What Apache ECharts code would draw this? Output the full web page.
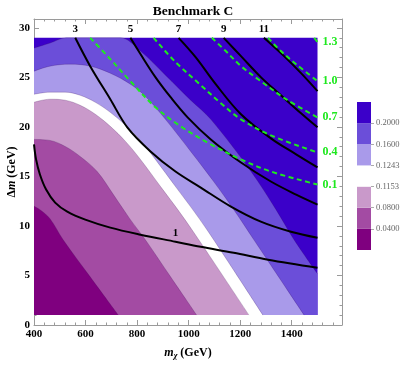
<!DOCTYPE html>
<html><head><meta charset="utf-8">
<script src="https://cdn.jsdelivr.net/npm/echarts@6/dist/echarts.min.js"></script>
<style>html,body{margin:0;padding:0;background:#fff}#c{width:407px;height:365px}</style>
</head><body><div id="c"></div>
<script>
// ---- legend levels and colours of the filled bands (low -> high) ----
const levelLabels = ['0.0400','0.0800','0.1153','0.1243','0.1600','0.2000'];
const bandColors  = ['#7f007f','#a34ba3','#c999ca','#ffffff','#a99aea','#6b4ed9','#3b00c9'];

// ---- filled-contour boundaries [m_chi (GeV), Δm (GeV)] ----
const regionTop = [[400,29],[1500,29]];
const c0200 = [[400,27.96],[462,28.47],[525,29],[735,29],[813,27.66],[910,25.23],[1008,22.7],[1086,20.77],[1242,15.5],[1339,11.65],[1409,8.61],[1500,5.17]];
const c0160 = [[400,25.63],[462,26.14],[540,26.34],[618,26.14],[696,25.43],[774,24.32],[832,23.10],[910,20.77],[1008,17.53],[1097,14.49],[1175,11.65],[1253,8.61],[1448,1.0]];
const c01243 = [[400,23.30],[462,23.51],[521,23.51],[579,23.20],[638,22.49],[696,21.48],[755,20.16],[813,18.64],[871,16.72],[949,13.98],[1027,11.25],[1097,8.61],[1288,1.0]];
const c01153 = [[400,22.49],[462,22.80],[521,22.70],[579,22.19],[638,21.28],[696,20.06],[755,18.54],[813,16.72],[891,13.98],[969,11.25],[1047,8.31],[1234,1.0]];
const c0080 = [[400,18.74],[462,18.64],[521,18.03],[579,17.02],[645,15.50],[708,13.17],[774,10.64],[832,8.61],[930,4.86],[1031,1.0]];
const c0040 = [[400,12.0],[423,11.65],[462,10.74],[513,8.61],[618,4.86],[727,1.0]];

// ---- black contour lines ----
const b1  = [[400,18.24],[408,16.72],[423,15.20],[447,13.68],[482,12.36],[529,11.45],[599,10.64],[696,9.83],[813,9.12],[949,8.41],[1047,7.90],[1175,7.29],[1308,6.59],[1500,5.78]];
const b3  = [[560,29],[618,26.14],[696,22.8],[762,19.96],[852,17.53],[949,15.50],[1047,13.88],[1164,11.96],[1280,10.44],[1397,9.42],[1500,8.81]];
const b5  = [[774,29],[813,27.36],[871,25.03],[930,23.0],[996,20.97],[1086,18.74],[1203,16.41],[1319,14.49],[1417,13.17],[1500,12.16]];
const b7  = [[961,29],[1027,27.05],[1105,24.32],[1203,21.28],[1319,18.85],[1417,17.23],[1500,15.91]];
const b9  = [[1136,29],[1203,27.15],[1280,25.03],[1358,23.2],[1436,21.38],[1500,19.96]];
const b11 = [[1292,29],[1370,27.15],[1436,25.43],[1500,23.61]];
const blackLines  = [b1, b3, b5, b7, b9, b11];
const blackLabels = ['1','3','5','7','9','11'];
const blackLabelIndex = [9, 0, 0, 0, 0, 0];

// ---- green dashed contour lines ----
const g01 = [[618,29],[696,26.85],[774,24.62],[871,21.99],[969,20.06],[1086,18.24],[1203,16.72],[1319,15.50],[1500,14.18]];
const g04 = [[864,29],[949,26.55],[1047,24.22],[1125,22.39],[1203,20.77],[1319,19.15],[1500,17.43]];
const g07 = [[1090,29],[1144,27.66],[1203,26.14],[1280,24.62],[1378,22.8],[1500,20.97]];
const g10 = [[1308,29],[1358,27.66],[1417,26.34],[1500,24.62]];
const g13 = [[1487,29],[1500,28.57]];
const greenLines  = [g01, g04, g07, g10, g13];
const greenLabels = ['0.1','0.4','0.7','1.0','1.3'];

const FONT = 'Liberation Serif';
const GREEN = '#1fe81f';
const FRAME = '#9a9a9a';

const chart = echarts.init(document.getElementById('c'), null, {renderer:'canvas'});

function fill(data, color, edge) {
  return {type:'line', xAxisIndex:0, yAxisIndex:0, data, smooth:0.35, symbol:'none', silent:true,
    lineStyle:{width: edge ? 0.6 : 0, color:'rgba(50,0,70,0.35)'},
    areaStyle:{color, opacity:1, origin:1}, z:1};
}
const series = [
  fill(regionTop, bandColors[6], false),
  fill(c0200,  bandColors[5], true),
  fill(c0160,  bandColors[4], true),
  fill(c01243, bandColors[3], true),
  fill(c01153, bandColors[2], true),
  fill(c0080,  bandColors[1], true),
  fill(c0040,  bandColors[0], true)
];
blackLines.forEach((ln, k) => {
  series.push({type:'line', xAxisIndex:0, yAxisIndex:0, smooth:0.35, silent:true,
    showSymbol:true, symbol:'circle', symbolSize:0, z:3,
    lineStyle:{color:'#000', width:2},
    data: ln.map((p, i) => i === blackLabelIndex[k]
      ? {value:p, label:{show:true, formatter:blackLabels[k], position:'top', distance:3,
         color:'#000', fontFamily:FONT, fontWeight:'bold', fontSize:11}}
      : p)
  });
});
greenLines.forEach((ln, k) => {
  series.push({type:'line', xAxisIndex:0, yAxisIndex:0, smooth:0.35, silent:true, symbol:'none', z:4,
    lineStyle:{color:GREEN, width:2, type:[5,3.5]}, data: ln,
    endLabel:{show:true, formatter:greenLabels[k], color:GREEN, fontFamily:FONT, fontWeight:'bold', fontSize:12, distance:5}
  });
});
// colour bar (stacked unit bars)
bandColors.forEach((col) => {
  series.push({type:'bar', xAxisIndex:2, yAxisIndex:2, stack:'bar', data:[1], barWidth:'100%', silent:true,
    itemStyle:{color:col}});
});

const frameAxis = {
  axisLine:{show:true, onZero:false, lineStyle:{color:FRAME, width:1}},
  axisTick:{show:true, inside:true, length:5, lineStyle:{color:FRAME}},
  minorTick:{show:true, splitNumber:5, length:2.5, lineStyle:{color:FRAME}},
  splitLine:{show:false}
};
const tickLabel = {color:'#000', fontFamily:FONT, fontWeight:'bold', fontSize:11, showMaxLabel:false, formatter:v => String(v)};

chart.setOption({
  animation:false,
  textStyle:{fontFamily:FONT},
  title:{text:'Benchmark C', left:188, top:0, textAlign:'center',
    textStyle:{fontFamily:FONT, fontWeight:'bold', fontSize:13.5, color:'#000'}},
  grid:[{left:34, right:65, top:19, bottom:40, containLabel:false, outerBoundsMode:'none'},
        {left:357, top:102, width:14, height:148, containLabel:false, outerBoundsMode:'none'}],
  xAxis:[
    Object.assign({gridIndex:0, type:'value', min:400, max:1595, interval:200, position:'bottom',
      axisLabel:Object.assign({margin:4}, tickLabel),
      name:'{i|m}{s|χ} {b|(GeV)}', nameLocation:'middle', nameGap:20,
      nameTextStyle:{color:'#000', fontFamily:FONT, fontWeight:'bold', fontSize:12,
        rich:{i:{fontFamily:FONT, fontStyle:'italic', fontSize:12, color:'#000'},
              s:{fontFamily:FONT, fontStyle:'italic', fontSize:8, color:'#000', padding:[7,0,0,0]},
              b:{fontFamily:FONT, fontWeight:'bold', fontSize:12, color:'#000'}}}
    }, frameAxis),
    Object.assign({gridIndex:0, type:'value', min:400, max:1595, interval:200, position:'top',
      axisLabel:{show:false}}, frameAxis),
    {gridIndex:1, type:'category', data:[''], show:false}
  ],
  yAxis:[
    Object.assign({gridIndex:0, type:'value', min:0, max:30.9, interval:5, position:'left',
      axisLabel:Object.assign({margin:4}, tickLabel),
      name:'{b|Δ}{i|m}{b| (GeV)}', nameLocation:'middle', nameGap:16, nameRotate:90, nameMoveOverlap:false,
      nameTextStyle:{color:'#000', fontFamily:FONT, fontWeight:'bold', fontSize:12,
        rich:{i:{fontFamily:FONT, fontStyle:'italic', fontSize:12, color:'#000'},
              b:{fontFamily:FONT, fontWeight:'bold', fontSize:12, color:'#000'}}}
    }, frameAxis),
    Object.assign({gridIndex:0, type:'value', min:0, max:30.9, interval:5, position:'right',
      axisLabel:{show:false}}, frameAxis),
    {gridIndex:1, type:'value', min:0, max:7, position:'right',
      axisLine:{show:false}, splitLine:{show:false},
      axisTick:{show:true, length:3, customValues:[1,2,3,4,5,6], lineStyle:{color:'#aaa'}},
      axisLabel:{customValues:[1,2,3,4,5,6], formatter:v => levelLabels[v-1] || '', margin:5,
        fontFamily:FONT, fontSize:8.5, color:'#666'}}
  ],
  series
});
</script></body></html>
